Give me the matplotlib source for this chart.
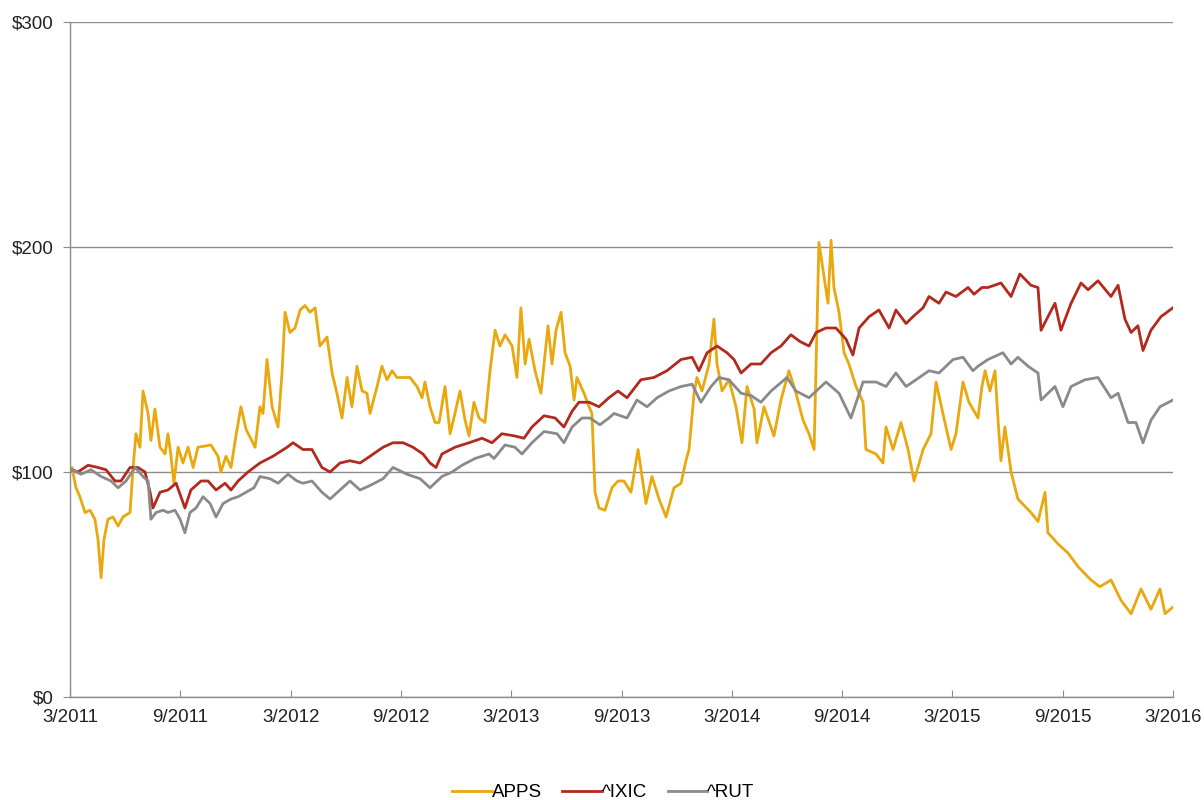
import matplotlib
matplotlib.use("Agg")
import matplotlib.pyplot as plt

plt.rcParams['font.family'] = ['Liberation Sans', 'DejaVu Sans']

# ---- data (fractional year, value of $100 invested) ----
apps_t = [2011.167, 2011.176, 2011.194, 2011.212, 2011.235, 2011.258, 2011.280, 2011.294, 2011.308, 2011.321,
          2011.339, 2011.362, 2011.385, 2011.407, 2011.439, 2011.453, 2011.466, 2011.484, 2011.498, 2011.521,
          2011.534, 2011.552, 2011.575, 2011.598, 2011.611, 2011.625, 2011.638, 2011.657, 2011.679, 2011.702,
          2011.725, 2011.747, 2011.806, 2011.838, 2011.851, 2011.874, 2011.897, 2011.919, 2011.942, 2011.965,
          2012.006, 2012.028, 2012.042, 2012.060, 2012.083, 2012.110, 2012.128, 2012.142, 2012.164, 2012.187,
          2012.210, 2012.232, 2012.255, 2012.278, 2012.300, 2012.332, 2012.355, 2012.377, 2012.400, 2012.423,
          2012.445, 2012.468, 2012.491, 2012.513, 2012.527, 2012.559, 2012.581, 2012.604, 2012.627, 2012.649,
          2012.708, 2012.740, 2012.763, 2012.776, 2012.799, 2012.822, 2012.840, 2012.867, 2012.890, 2012.912,
          2012.935, 2012.958, 2012.976, 2012.998, 2013.021, 2013.048, 2013.071, 2013.094, 2013.116, 2013.139,
          2013.171, 2013.193, 2013.211, 2013.230, 2013.248, 2013.275, 2013.302, 2013.334, 2013.352, 2013.370,
          2013.393, 2013.411, 2013.434, 2013.452, 2013.465, 2013.497, 2013.520, 2013.533, 2013.547, 2013.565,
          2013.592, 2013.624, 2013.651, 2013.678, 2013.710, 2013.742, 2013.778, 2013.805, 2013.837, 2013.869,
          2013.905, 2013.937, 2013.959, 2013.973, 2013.996, 2014.009, 2014.032, 2014.064, 2014.086, 2014.100,
          2014.123, 2014.154, 2014.186, 2014.213, 2014.236, 2014.268, 2014.281, 2014.313, 2014.358, 2014.390,
          2014.426, 2014.458, 2014.490, 2014.517, 2014.540, 2014.562, 2014.585, 2014.603, 2014.617, 2014.630,
          2014.653, 2014.676, 2014.698, 2014.730, 2014.762, 2014.775, 2014.821, 2014.852, 2014.866, 2014.898,
          2014.934, 2014.966, 2014.993, 2015.034, 2015.070, 2015.093, 2015.124, 2015.161, 2015.183, 2015.215,
          2015.242, 2015.283, 2015.301, 2015.315, 2015.337, 2015.360, 2015.374, 2015.387, 2015.405, 2015.433,
          2015.464, 2015.523, 2015.555, 2015.587, 2015.600, 2015.646, 2015.691, 2015.736, 2015.795, 2015.836,
          2015.886, 2015.931, 2015.977, 2016.022, 2016.067, 2016.108, 2016.131, 2016.167]
apps_v = [100, 102, 93, 89, 82, 83, 79, 70, 53, 70,
          79, 80, 76, 80, 82, 102, 117, 111, 136, 126,
          114, 128, 111, 108, 117, 107, 95, 111, 104, 111,
          102, 111, 112, 107, 100, 107, 102, 116, 129, 119,
          111, 129, 126, 150, 129, 120, 144, 171, 162, 164,
          172, 174, 171, 173, 156, 160, 144, 135, 124, 142,
          129, 147, 136, 135, 126, 138, 147, 141, 145, 142,
          142, 138, 133, 140, 129, 122, 122, 138, 117, 126,
          136, 123, 116, 131, 124, 122, 145, 163, 156, 161,
          156, 142, 173, 148, 159, 145, 135, 165, 148, 163,
          171, 153, 147, 132, 142, 135, 129, 126, 91, 84,
          83, 93, 96, 96, 91, 110, 86, 98, 88, 80,
          93, 95, 105, 110, 135, 142, 136, 148, 168, 148,
          136, 141, 129, 113, 138, 128, 113, 129, 116, 132,
          145, 135, 123, 117, 110, 202, 187, 175, 203, 182,
          171, 153, 148, 138, 131, 110, 108, 104, 120, 110,
          122, 110, 96, 110, 117, 140, 126, 110, 117, 140,
          131, 124, 138, 145, 136, 145, 123, 105, 120, 100,
          88, 82, 78, 91, 73, 68, 64, 58, 52, 49,
          52, 43, 37, 48, 39, 48, 37, 40]

ixic_t = [2011.167, 2011.176, 2011.203, 2011.249, 2011.294, 2011.330, 2011.371, 2011.398, 2011.439, 2011.475,
          2011.507, 2011.530, 2011.543, 2011.575, 2011.611, 2011.648, 2011.688, 2011.715, 2011.761, 2011.793,
          2011.829, 2011.870, 2011.897, 2011.929, 2011.974, 2012.028, 2012.087, 2012.151, 2012.178, 2012.223,
          2012.264, 2012.309, 2012.346, 2012.391, 2012.436, 2012.482, 2012.527, 2012.586, 2012.631, 2012.677,
          2012.722, 2012.767, 2012.799, 2012.826, 2012.853, 2012.912, 2012.976, 2013.035, 2013.080, 2013.125,
          2013.184, 2013.225, 2013.261, 2013.316, 2013.366, 2013.406, 2013.443, 2013.474, 2013.520, 2013.565,
          2013.610, 2013.651, 2013.692, 2013.755, 2013.814, 2013.873, 2013.937, 2013.987, 2014.018, 2014.055,
          2014.100, 2014.145, 2014.177, 2014.209, 2014.254, 2014.299, 2014.345, 2014.390, 2014.435, 2014.476,
          2014.517, 2014.549, 2014.594, 2014.639, 2014.685, 2014.716, 2014.744, 2014.789, 2014.834, 2014.880,
          2014.911, 2014.957, 2014.988, 2015.034, 2015.061, 2015.106, 2015.138, 2015.183, 2015.238, 2015.265,
          2015.301, 2015.328, 2015.387, 2015.433, 2015.473, 2015.523, 2015.555, 2015.569, 2015.600, 2015.632,
          2015.659, 2015.705, 2015.750, 2015.782, 2015.827, 2015.886, 2015.918, 2015.949, 2015.977, 2016.008,
          2016.031, 2016.067, 2016.112, 2016.167]
ixic_v = [100, 101, 100, 103, 102, 101, 96, 96, 102, 102,
          100, 91, 84, 91, 92, 95, 84, 92, 96, 96,
          92, 95, 92, 96, 100, 104, 107, 111, 113, 110,
          110, 102, 100, 104, 105, 104, 107, 111, 113, 113,
          111, 108, 104, 102, 108, 111, 113, 115, 113, 117,
          116, 115, 120, 125, 124, 120, 127, 131, 131, 129,
          133, 136, 133, 141, 142, 145, 150, 151, 145, 153,
          156, 153, 150, 144, 148, 148, 153, 156, 161, 158,
          156, 162, 164, 164, 159, 152, 164, 169, 172, 164,
          172, 166, 169, 173, 178, 175, 180, 178, 182, 179,
          182, 182, 184, 178, 188, 183, 182, 163, 169, 175,
          163, 175, 184, 181, 185, 178, 183, 168, 162, 165,
          154, 163, 169, 173]

rut_t = [2011.167, 2011.176, 2011.217, 2011.262, 2011.308, 2011.353, 2011.385, 2011.421, 2011.462, 2011.498,
         2011.521, 2011.534, 2011.557, 2011.589, 2011.611, 2011.643, 2011.666, 2011.688, 2011.711, 2011.738,
         2011.770, 2011.802, 2011.829, 2011.861, 2011.897, 2011.929, 2011.965, 2012.001, 2012.028, 2012.074,
         2012.110, 2012.155, 2012.196, 2012.223, 2012.264, 2012.309, 2012.346, 2012.391, 2012.436, 2012.482,
         2012.527, 2012.586, 2012.631, 2012.695, 2012.754, 2012.799, 2012.853, 2012.899, 2012.944, 2013.003,
         2013.066, 2013.089, 2013.139, 2013.184, 2013.216, 2013.261, 2013.316, 2013.375, 2013.406, 2013.443,
         2013.488, 2013.524, 2013.569, 2013.610, 2013.633, 2013.692, 2013.737, 2013.783, 2013.828, 2013.882,
         2013.937, 2013.987, 2014.027, 2014.073, 2014.109, 2014.154, 2014.209, 2014.254, 2014.299, 2014.345,
         2014.417, 2014.458, 2014.517, 2014.594, 2014.653, 2014.707, 2014.762, 2014.821, 2014.866, 2014.911,
         2014.957, 2015.002, 2015.061, 2015.106, 2015.170, 2015.215, 2015.260, 2015.283, 2015.328, 2015.396,
         2015.433, 2015.464, 2015.510, 2015.555, 2015.569, 2015.632, 2015.668, 2015.705, 2015.768, 2015.827,
         2015.886, 2015.918, 2015.963, 2015.999, 2016.031, 2016.067, 2016.108, 2016.167]
rut_v = [100, 101, 99, 101, 98, 96, 93, 96, 102, 98,
         96, 79, 82, 83, 82, 83, 79, 73, 82, 84,
         89, 86, 80, 86, 88, 89, 91, 93, 98, 97,
         95, 99, 96, 95, 96, 91, 88, 92, 96, 92,
         94, 97, 102, 99, 97, 93, 98, 100, 103, 106,
         108, 106, 112, 111, 108, 113, 118, 117, 113, 120,
         124, 124, 121, 124, 126, 124, 132, 129, 133, 136,
         138, 139, 131, 138, 142, 141, 135, 134, 131, 136,
         142, 136, 133, 140, 135, 124, 140, 140, 138, 144,
         138, 141, 145, 144, 150, 151, 145, 147, 150, 153,
         148, 151, 147, 144, 132, 138, 129, 138, 141, 142,
         133, 135, 122, 122, 113, 123, 129, 132]

series_names = ['APPS', '^IXIC', '^RUT']
series_colors = ['#E9A80E', '#B22A1E', '#8A8A8A']

x_tick_values = [2011.167 + 0.5 * i for i in range(11)]
x_tick_labels = ['3/2011', '9/2011', '3/2012', '9/2012', '3/2013', '9/2013',
                 '3/2014', '9/2014', '3/2015', '9/2015', '3/2016']
y_tick_values = [0, 100, 200, 300]
y_tick_labels = ['$0', '$100', '$200', '$300']

# ---- figure ----
fig = plt.figure(figsize=(12.04, 8.0), dpi=100)
ax = fig.add_axes([70 / 1204, 1 - 697 / 800, (1173 - 70) / 1204, (697 - 22) / 800])

for (t, v), name, col in zip([(apps_t, apps_v), (ixic_t, ixic_v), (rut_t, rut_v)],
                             series_names, series_colors):
    ax.plot(t, v, color=col, lw=2.0, label=name)

ax.set_xlim(x_tick_values[0], x_tick_values[-1])
ax.set_ylim(0, 300)
ax.set_xticks(x_tick_values)
ax.set_xticklabels(x_tick_labels)
ax.set_yticks(y_tick_values)
ax.set_yticklabels(y_tick_labels)

ax.yaxis.grid(True, color='#8C8C8C', lw=1.0)
ax.set_axisbelow(True)
for s in ['top', 'right']:
    ax.spines[s].set_visible(False)
for s in ['left', 'bottom']:
    ax.spines[s].set_color('#8C8C8C')
    ax.spines[s].set_linewidth(1.0)

ax.tick_params(axis='x', direction='in', length=5, color='#8C8C8C', labelsize=13.5,
               pad=9, labelcolor='#222222')
ax.tick_params(axis='y', direction='out', length=5, color='#8C8C8C', labelsize=13.5,
               pad=7, labelcolor='#222222')

fig.legend(loc='center', bbox_to_anchor=(0.501, 0.009), ncol=3, frameon=False,
           fontsize=13.5, handlelength=2.1, handletextpad=0.0, columnspacing=1.1)

fig.savefig('out.png', dpi=100)
